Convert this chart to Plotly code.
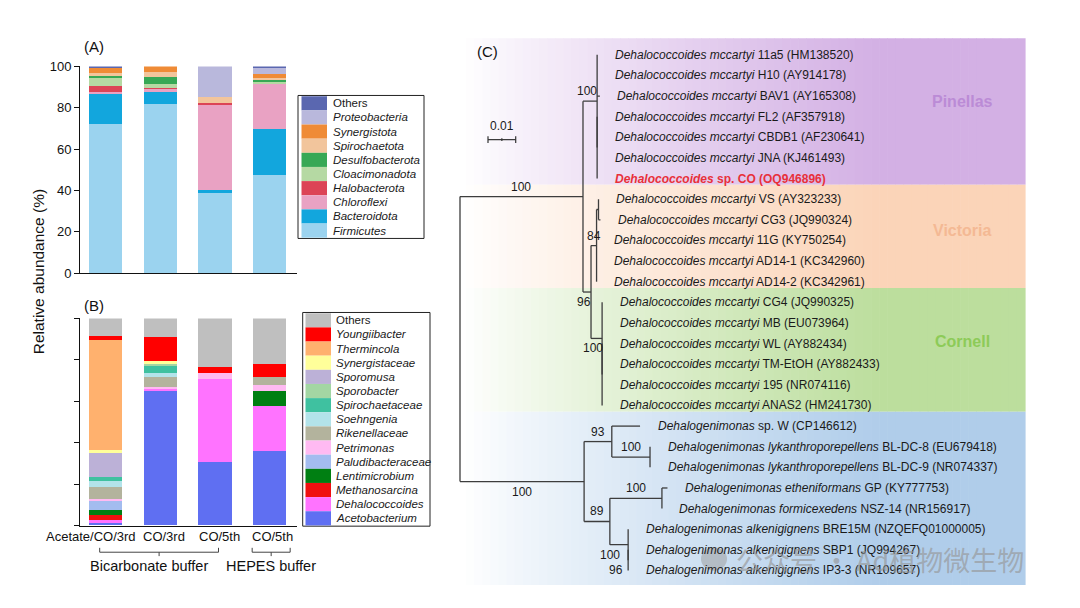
import plotly.graph_objects as go

W, H = 1080, 608

# ------------------------------------------------------------------ data
samples = ["Acetate/CO/3rd", "CO/3rd", "CO/5th", "CO/5th"]
buffer_names = ["Bicarbonate buffer", "HEPES buffer"]
buffer_first = [0, 3]
buffer_last = [2, 3]

# Panel A: phylum-level relative abundance (%), bottom of stack first
firmicutes       = [72.1, 81.5, 38.4, 47.3]
bacteroidota     = [14.4,  6.0,  1.6, 22.0]
chloroflexi      = [ 1.0,  1.5, 41.4, 22.1]
halobacterota    = [ 2.8,  0.3,  0.8,  0.0]
cloacimonadota   = [ 4.1,  2.0,  0.0,  1.0]
desulfobacterota = [ 1.0,  3.2,  0.0,  0.9]
spirochaetota    = [ 1.0,  2.7,  3.0,  0.8]
synergistota     = [ 2.8,  2.8,  0.0,  1.9]
proteobacteria   = [ 0.2,  0.0, 14.8,  3.5]
others_phylum    = [ 0.6,  0.0,  0.0,  0.5]

phylum_names = ["Firmicutes", "Bacteroidota", "Chloroflexi", "Halobacterota",
                "Cloacimonadota", "Desulfobacterota", "Spirochaetota",
                "Synergistota", "Proteobacteria", "Others"]
phylum_values = [firmicutes, bacteroidota, chloroflexi, halobacterota,
                 cloacimonadota, desulfobacterota, spirochaetota,
                 synergistota, proteobacteria, others_phylum]
phylum_colors = ["#9bd3ef", "#12a6dd", "#e9a2c3", "#dc4456", "#b5d9a3",
                 "#37a855", "#f2c59c", "#ef8b36", "#b9b8dc", "#5a67b0"]

# Panel B: genus-level relative abundance (%), bottom of stack first
acetobacterium    = [ 1.1, 64.8, 30.6, 35.8]
dehalococcoides   = [ 1.6,  1.0, 40.0, 21.8]
methanosarcina    = [ 2.4,  0.0,  0.0,  0.0]
lentimicrobium    = [ 2.0,  0.0,  0.0,  7.2]
paludibacteraceae = [ 4.4,  0.0,  0.0,  0.0]
petrimonas        = [ 1.1,  0.9,  2.7,  3.1]
rikenellaceae     = [ 5.8,  4.7,  0.0,  3.6]
soehngenia        = [ 2.8,  1.9,  0.0,  0.0]
spirochaetaceae   = [ 1.9,  3.6,  0.0,  0.0]
sporobacter       = [ 0.0,  1.1,  0.0,  0.0]
sporomusa         = [11.5,  0.0,  0.0,  0.0]
synergistaceae    = [ 1.9,  1.2,  0.0,  0.0]
thermincola       = [52.7,  0.0,  0.0,  0.0]
youngiibacter     = [ 1.9, 11.8,  3.1,  6.5]
others_genus      = [ 8.9,  9.0, 23.6, 22.0]

genus_names = ["Acetobacterium", "Dehalococcoides", "Methanosarcina",
               "Lentimicrobium", "Paludibacteraceae", "Petrimonas",
               "Rikenellaceae", "Soehngenia", "Spirochaetaceae", "Sporobacter",
               "Sporomusa", "Synergistaceae", "Thermincola", "Youngiibacter",
               "Others"]
genus_values = [acetobacterium, dehalococcoides, methanosarcina, lentimicrobium,
                paludibacteraceae, petrimonas, rikenellaceae, soehngenia,
                spirochaetaceae, sporobacter, sporomusa, synergistaceae,
                thermincola, youngiibacter, others_genus]
genus_colors = ["#5f6ff2", "#ff73ff", "#f01010", "#007f12", "#a3bcef",
                "#ffbaf2", "#b3b39d", "#b3e3ea", "#3fc1a0", "#a3d6a3",
                "#bcb1d7", "#ffff9a", "#ffb16e", "#ff0000", "#bfbfbf"]

# Panel C: 16S rRNA phylogeny (branch lengths in substitutions/site)
node_names   = ["root", "Dhc", "Pin", "PinSub", "VicCor", "Vic", "VicSub",
                "Cor", "CorSub", "Dhg", "N93", "Lyk", "N89", "GpNsz", "Alk",
                "AlkSub"]
node_parents = [None, "root", "Dhc", "Pin", "Dhc", "VicCor", "Vic",
                "VicCor", "Cor", "root", "Dhg", "N93", "Dhg", "N89", "N89",
                "Alk"]
node_lengths = [0.0, 0.0444, 0.0051, 0.0, 0.0029, 0.0020, 0.0007,
                0.0040, 0.0, 0.0448, 0.0100, 0.0138, 0.0093, 0.0188, 0.0066,
                0.0]
node_support = ["", "100", "100", "", "96", "84", "", "100", "", "100",
                "93", "100", "89", "100", "100", "96"]

leaf_taxon = (["Dehalococcoides mccartyi"] * 6 + ["Dehalococcoides"] +
              ["Dehalococcoides mccartyi"] * 11 +
              ["Dehalogenimonas",
               "Dehalogenimonas lykanthroporepellens",
               "Dehalogenimonas lykanthroporepellens",
               "Dehalogenimonas etheniformans",
               "Dehalogenimonas formicexedens",
               "Dehalogenimonas alkenigignens",
               "Dehalogenimonas alkenigignens",
               "Dehalogenimonas alkenigignens"])
leaf_strain = ["11a5", "H10", "BAV1", "FL2", "CBDB1", "JNA", "sp. CO",
               "VS", "CG3", "11G", "AD14-1", "AD14-2",
               "CG4", "MB", "WL", "TM-EtOH", "195", "ANAS2",
               "sp. W", "BL-DC-8", "BL-DC-9", "GP", "NSZ-14", "BRE15M",
               "SBP1", "IP3-3"]
leaf_accession = ["HM138520", "AY914178", "AY165308", "AF357918", "AF230641",
                  "KJ461493", "OQ946896", "AY323233", "JQ990324", "KY750254",
                  "KC342960", "KC342961", "JQ990325", "EU073964", "AY882434",
                  "AY882433", "NR074116", "HM241730", "CP146612", "EU679418",
                  "NR074337", "KY777753", "NR156917", "NZQEFQ01000005",
                  "JQ994267", "NR109657"]
leaf_parent = (["Pin"] * 3 + ["PinSub"] * 4 + ["VicSub"] * 2 + ["Vic"] * 3 +
               ["Cor"] * 2 + ["CorSub"] * 4 +
               ["N93", "Lyk", "Lyk", "GpNsz", "GpNsz", "Alk", "AlkSub", "AlkSub"])
leaf_length = [0, 0, 0.001, 0, 0, 0, 0, 0, 0.0007, 0, 0, 0, 0, 0, 0, 0, 0, 0,
               0.0102, 0, 0, 0.002, 0, 0, 0, 0]
highlight_strain = "sp. CO"

clade_names = ["Pinellas", "Victoria", "Cornell", ""]
clade_first = [0, 7, 12, 18]
clade_last = [6, 11, 17, 25]
clade_colors = [(211, 176, 228), (251, 212, 184), (188, 222, 157), (176, 205, 234)]
clade_text_colors = ["#bb8bd6", "#f4b994", "#8dcb58", ""]

# ------------------------------------------------------------------ helpers
def fx(px):
    return px / W


def fy(py):
    return 1 - py / H


FONT = "Arial, Liberation Sans, sans-serif"
fig = go.Figure()
idx = list(range(len(samples)))

# bar geometry (category axis in data units)
BAR_W = 0.61
X_RANGE = [-0.47, 3.5]
A_X = (80, 297)
A_Y = (61, 273)      # px of 100 and 0
B_Y = (319.3, 531.7)
CAT_PX = (A_X[1] - A_X[0]) / (X_RANGE[1] - X_RANGE[0])


def cat_px(c):
    return A_X[0] + (c - X_RANGE[0]) * CAT_PX


for name, vals, col in zip(phylum_names, phylum_values, phylum_colors):
    fig.add_trace(go.Bar(x=idx, y=vals, name=name, width=BAR_W,
                         marker=dict(color=col, line=dict(width=0)),
                         xaxis="x", yaxis="y", showlegend=False))
for name, vals, col in zip(genus_names, genus_values, genus_colors):
    fig.add_trace(go.Bar(x=idx, y=vals, name=name, width=BAR_W,
                         marker=dict(color=col, line=dict(width=0)),
                         xaxis="x2", yaxis="y2", showlegend=False))

shapes = []
annotations = []


def text(x, y, s, size, color="#111", xanchor="center", yanchor="middle", **kw):
    annotations.append(dict(xref="paper", yref="paper", x=fx(x), y=fy(y), text=s,
                            showarrow=False, xanchor=xanchor, yanchor=yanchor,
                            font=dict(family=kw.pop("family", FONT), size=size, color=color),
                            **kw))


def legend_box(names, colors, x0, x1, y0, row_h, sw_x0, sw_x1, tx):
    n = len(names)
    shapes.append(dict(type="rect", xref="paper", yref="paper",
                       x0=fx(x0), x1=fx(x1), y0=fy(y0 - 0.8), y1=fy(y0 + n * row_h + 0.8),
                       line=dict(color="#222", width=1), fillcolor="rgba(0,0,0,0)"))
    for k, (nm, col) in enumerate(zip(names, colors)):
        top = y0 + k * row_h
        shapes.append(dict(type="rect", xref="paper", yref="paper",
                           x0=fx(sw_x0), x1=fx(sw_x1), y0=fy(top), y1=fy(top + row_h),
                           line=dict(width=0), fillcolor=col))
        label = nm if nm == "Others" else "<i>%s</i>" % nm
        text(tx, top + row_h / 2, label, 11.5, "#1a1a1a", xanchor="left")


legend_box(phylum_names[::-1], phylum_colors[::-1], 298, 424, 91.5, 14.5, 301.5, 327, 331)
legend_box(genus_names[::-1], genus_colors[::-1], 302.7, 430, 314, 14.5, 305.5, 331, 334)

# panel labels and y title
for txt, x, y in [("(A)", 94, 40), ("(B)", 94, 306), ("(C)", 487, 46)]:
    text(x, y, txt, 15)
text(38, 272, "Relative abundance (%)", 15.5, textangle=-90)

# sample labels under panel B
label_shift = [-15, 4, 4, 3]
for i, s in enumerate(samples):
    annotations.append(dict(xref="x2", yref="paper", x=i, y=fy(543), text=s,
                            xshift=label_shift[i], showarrow=False,
                            xanchor="center", yanchor="middle",
                            font=dict(family=FONT, size=13, color="#111")))

# buffer brackets
bracket_pad = [(6, 3.5), (17.5, 20.5)]
group_shift = [-10, 0]
for g, name in enumerate(buffer_names):
    left = cat_px(buffer_first[g]) - bracket_pad[g][0]
    right = cat_px(buffer_last[g]) + bracket_pad[g][1]
    mid = (left + right) / 2
    pts = [((left, 554.5), (left, 559)), ((left, 559), (right, 559)),
           ((right, 559), (right, 554.5)), ((mid, 559), (mid, 563))]
    for (ax, ay), (bx, by) in pts:
        shapes.append(dict(type="line", xref="paper", yref="paper",
                           x0=fx(ax), y0=fy(ay), x1=fx(bx), y1=fy(by),
                           line=dict(color="#444", width=1)))
    text(mid + group_shift[g], 573.5, name, 14.5)

# ------------------------------------------------------------------ tree layout
ROOT_PX, PX_PER_UNIT = 460.0, 2770.0
ROW0_PX, ROW_PX = 49.0, 21.15
parent_of = dict(zip(node_names, node_parents))
length_of = dict(zip(node_names, node_lengths))
support_of = dict(zip(node_names, node_support))
children = {n: [] for n in node_names}
for n, p in zip(node_names, node_parents):
    if p is not None:
        children[p].append(("node", n))
for i, p in enumerate(leaf_parent):
    children[p].append(("leaf", i))

node_x = {}


def set_x(n, x):
    node_x[n] = x
    for kind, c in children[n]:
        if kind == "node":
            set_x(c, x + length_of[c])


set_x("root", 0.0)
leaf_x = [node_x[p] + l for p, l in zip(leaf_parent, leaf_length)]

node_y = {}


def get_y(kind, c):
    if kind == "leaf":
        return float(c)
    if c not in node_y:
        ys = [get_y(k, cc) for k, cc in children[c]]
        node_y[c] = (min(ys) + max(ys)) / 2
    return node_y[c]


get_y("node", "root")

seg_x, seg_y = [], []
for n in node_names:
    ys = []
    for kind, c in children[n]:
        cy = get_y(kind, c)
        cx = node_x[c] if kind == "node" else leaf_x[c]
        ys.append(cy)
        if cx > node_x[n]:
            seg_x += [node_x[n], cx, None]
            seg_y += [cy, cy, None]
    if ys:
        seg_x += [node_x[n], node_x[n], None]
        seg_y += [min(ys), max(ys), None]

fig.add_trace(go.Scatter(x=seg_x, y=seg_y, mode="lines", xaxis="x3", yaxis="y3",
                         line=dict(color="#3d3d3d", width=1.3), hoverinfo="skip",
                         showlegend=False))

# clade bands with horizontal white-to-colour gradient
BAND_L, BAND_R, G0, G1, NSTRIP = 458, 1025, 465, 880, 70
edges = []
for k in range(len(clade_first)):
    top = clade_first[k] - 0.8 if k == 0 else (clade_last[k - 1] + clade_first[k]) / 2 - 0.2
    bot = clade_last[k] + 0.7 if k == len(clade_first) - 1 else (clade_last[k] + clade_first[k + 1]) / 2 - 0.2
    edges.append((top, bot))
band_shapes = []
sw = (BAND_R - BAND_L) / NSTRIP
for k, (top, bot) in enumerate(edges):
    r, g, b = clade_colors[k]
    for j in range(NSTRIP):
        xa = BAND_L + j * sw
        t = min(1.0, max(0.0, (xa + sw / 2 - G0) / (G1 - G0))) ** 0.85
        col = "rgb(%d,%d,%d)" % (round(255 + (r - 255) * t), round(255 + (g - 255) * t),
                                 round(255 + (b - 255) * t))
        band_shapes.append(dict(type="rect", xref="paper", yref="y3", layer="below",
                                x0=fx(xa), x1=fx(xa + sw + 0.6), y0=top, y1=bot,
                                line=dict(width=0), fillcolor=col))
    if clade_names[k]:
        annotations.append(dict(xref="paper", yref="y3", x=fx(962),
                                y=clade_first[k] + 0.38 * (clade_last[k] - clade_first[k]),
                                text="<b>%s</b>" % clade_names[k], showarrow=False,
                                xanchor="center", yanchor="middle",
                                font=dict(family=FONT, size=16, color=clade_text_colors[k])))

# leaf labels
for i in range(len(leaf_strain)):
    if leaf_strain[i] == highlight_strain:
        txt = "<b><i>%s</i> %s (%s)</b>" % (leaf_taxon[i], leaf_strain[i], leaf_accession[i])
        col = "#e8303a"
    else:
        txt = "<i>%s</i> %s (%s)" % (leaf_taxon[i], leaf_strain[i], leaf_accession[i])
        col = "#1a1a1a"
    annotations.append(dict(xref="x3", yref="y3", x=leaf_x[i], y=i, text=txt,
                            xanchor="left", yanchor="middle", xshift=15.5, showarrow=False,
                            font=dict(family=FONT, size=12, color=col)))

# bootstrap support labels
support_side = {"Dhc": "above", "Pin": "above", "VicCor": "below", "Vic": "above",
                "Cor": "below", "Dhg": "below", "N93": "above", "Lyk": "above",
                "N89": "above", "GpNsz": "above", "Alk": "below", "AlkSub": "left"}
support_dx = {"Pin": -3, "VicCor": -3, "Cor": -4, "Alk": -9}
for n in node_names:
    s = support_of[n]
    if not s:
        continue
    side = support_side[n]
    if side == "left":
        ys = [get_y(k, c) for k, c in children[n]]
        annotations.append(dict(xref="x3", yref="y3", x=node_x[n], y=max(ys), text=s,
                                xanchor="right", yanchor="middle", xshift=-3, showarrow=False,
                                font=dict(family=FONT, size=12, color="#1a1a1a")))
        continue
    xm = (node_x[n] + node_x[parent_of[n]]) / 2
    annotations.append(dict(xref="x3", yref="y3", x=xm, y=node_y[n], text=s,
                            xanchor="center",
                            yanchor="bottom" if side == "above" else "top",
                            yshift=1 if side == "above" else -1,
                            xshift=support_dx.get(n, 0), showarrow=False,
                            font=dict(family=FONT, size=12, color="#1a1a1a")))

# scale bar 0.01
SB_X, SB_Y, SB_LEN = 488, 136, 0.01
sb_end = SB_X + SB_LEN * PX_PER_UNIT
for (ax, ay), (bx, by) in [((SB_X, SB_Y), (sb_end, SB_Y)),
                           ((SB_X, SB_Y - 3.5), (SB_X, SB_Y + 3.5)),
                           ((sb_end, SB_Y - 3.5), (sb_end, SB_Y + 3.5)),
                           (((SB_X + sb_end) / 2, SB_Y - 1.5), ((SB_X + sb_end) / 2, SB_Y + 1.5))]:
    shapes.append(dict(type="line", xref="paper", yref="paper", x0=fx(ax), y0=fy(ay),
                       x1=fx(bx), y1=fy(by), line=dict(color="#333", width=1.2)))
text((SB_X + sb_end) / 2, 122, "0.01", 12, "#1a1a1a")

# watermark
shapes.append(dict(type="circle", xref="paper", yref="paper", x0=fx(701), x1=fx(727),
                   y0=fy(554), y1=fy(578), line=dict(width=0),
                   fillcolor="rgba(160,160,160,0.55)"))
text(734, 566, "公众号 · Ad植物微生物", 27, "rgba(150,150,150,0.65)", xanchor="left",
     family="Noto Sans CJK SC")

# ------------------------------------------------------------------ axes
common_x = dict(range=X_RANGE, showline=True, linecolor="#111", linewidth=1,
                ticks="", showticklabels=False, showgrid=False, zeroline=False,
                fixedrange=True)
common_y = dict(range=[0, 100], showline=True, linecolor="#111", linewidth=1,
                ticks="outside", ticklen=5, tickwidth=1, tickcolor="#111",
                tickvals=[0, 20, 40, 60, 80, 100], showgrid=False, zeroline=False,
                fixedrange=True, tickfont=dict(family=FONT, size=13, color="#111"))

fig.update_layout(
    width=W, height=H, margin=dict(l=0, r=0, t=0, b=0),
    paper_bgcolor="white", plot_bgcolor="rgba(0,0,0,0)",
    barmode="stack", bargap=0, showlegend=False, hovermode=False,
    xaxis=dict(domain=[fx(A_X[0]), fx(A_X[1])], anchor="y", **common_x),
    yaxis=dict(domain=[fy(A_Y[1]), fy(A_Y[0])], anchor="x", **common_y),
    xaxis2=dict(domain=[fx(A_X[0]), fx(A_X[1])], anchor="y2", **common_x),
    yaxis2=dict(domain=[fy(B_Y[1]), fy(B_Y[0])], anchor="x2", showticklabels=False,
                **common_y),
    xaxis3=dict(domain=[fx(455), fx(1040)], anchor="y3",
                range=[(455 - ROOT_PX) / PX_PER_UNIT, (1040 - ROOT_PX) / PX_PER_UNIT],
                visible=False, fixedrange=True),
    yaxis3=dict(domain=[fy(600), fy(30)], anchor="x3",
                range=[(600 - ROW0_PX) / ROW_PX, (30 - ROW0_PX) / ROW_PX],
                visible=False, fixedrange=True),
    shapes=band_shapes + shapes,
    annotations=annotations,
    font=dict(family=FONT),
)

# remove the browser's default 8px body margin so the figure fills the window exactly
fig.write_html("out.html", config={"displayModeBar": False},
               post_script="document.body.style.margin='0px';")
